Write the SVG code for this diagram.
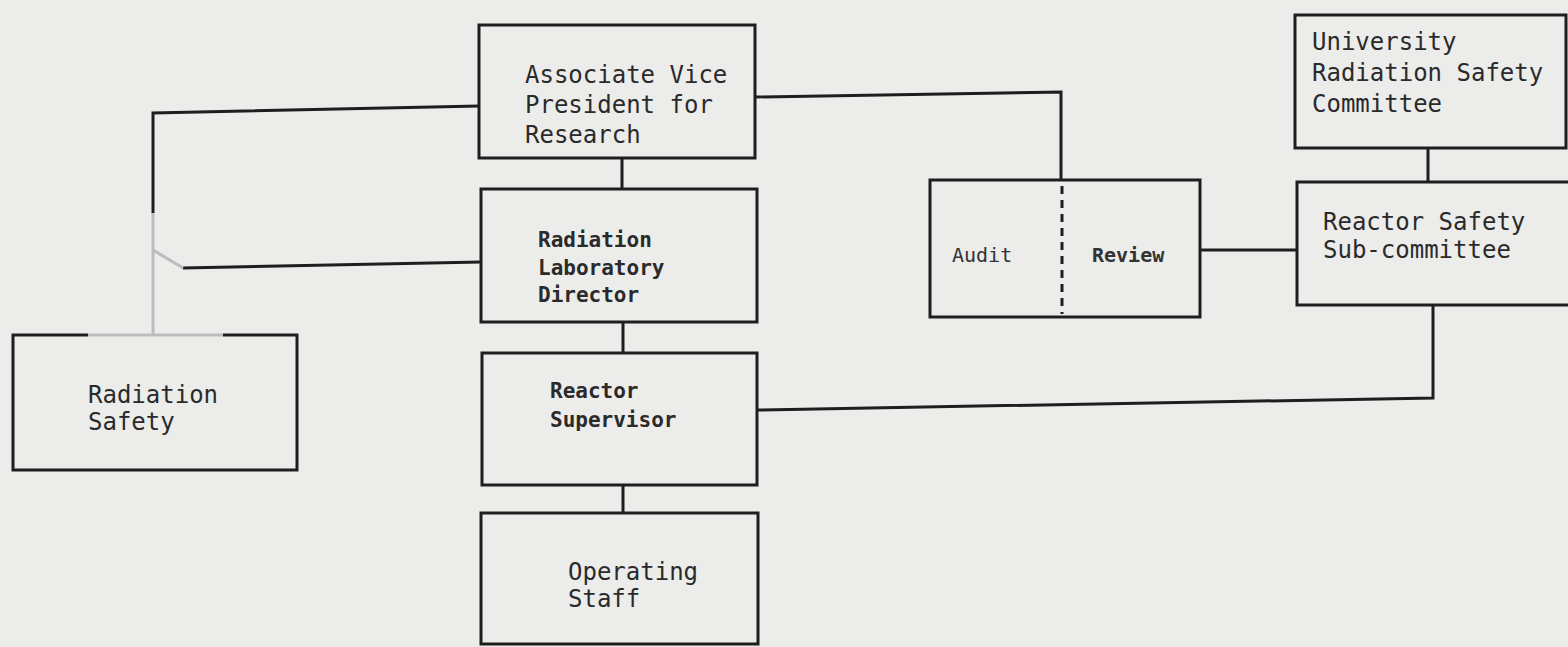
<svg xmlns="http://www.w3.org/2000/svg" width="1568" height="647" viewBox="0 0 1568 647">
<style>
.box{fill:none;stroke:#1e1e1e;stroke-width:3}
.ln{fill:none;stroke:#1e1e1e;stroke-width:3}
.faint{fill:none;stroke:#bdbdbd;stroke-width:3}
.t{font-family:"DejaVu Sans Mono","Liberation Mono",monospace;fill:#2a2a2a;font-size:24px}
.s{font-family:"DejaVu Sans Mono","Liberation Mono",monospace;fill:#2a2a2a;font-size:21px;font-weight:bold}
.a{font-family:"DejaVu Sans Mono","Liberation Mono",monospace;fill:#333;font-size:20px}
.dash{fill:none;stroke:#1e1e1e;stroke-width:3;stroke-dasharray:8 6}
</style>
<rect width="1568" height="647" fill="#ececea"/>
<g id="connectors">
<polyline class="ln" points="479,106 153,113 153,213"/>
<line class="faint" x1="153" y1="213" x2="153" y2="335"/>
<polyline class="ln" points="481,262 183,268"/>
<line class="faint" x1="183" y1="268" x2="153" y2="250"/>
<line class="ln" x1="622" y1="158" x2="622" y2="188"/>
<line class="ln" x1="623" y1="322" x2="623" y2="353"/>
<line class="ln" x1="623" y1="485" x2="623" y2="513"/>
<polyline class="ln" points="755,97 1061,92 1061,180"/>
<line class="ln" x1="1200" y1="250" x2="1297" y2="250"/>
<line class="ln" x1="1428" y1="148" x2="1428" y2="182"/>
<polyline class="ln" points="1433,305 1433,398 757,410"/>
</g>
<g id="avp">
<rect class="box" x="479" y="25" width="276" height="133"/>
<text class="t" x="525" y="83">Associate Vice</text>
<text class="t" x="525" y="113">President for</text>
<text class="t" x="525" y="143">Research</text>
</g>
<g id="rld">
<rect class="box" x="481" y="189" width="276" height="133"/>
<text class="s" x="538" y="247">Radiation</text>
<text class="s" x="538" y="275">Laboratory</text>
<text class="s" x="538" y="302">Director</text>
</g>
<g id="rs">
<rect class="box" x="482" y="353" width="275" height="132"/>
<text class="s" x="550" y="398">Reactor</text>
<text class="s" x="550" y="427">Supervisor</text>
</g>
<g id="os">
<rect class="box" x="481" y="513" width="277" height="131"/>
<text class="t" x="568" y="580">Operating</text>
<text class="t" x="568" y="607">Staff</text>
</g>
<g id="radsafety">
<polyline class="box" points="88,335 13,335 13,470 297,470 297,335 223,335"/>
<line class="faint" x1="88" y1="335" x2="223" y2="335"/>
<text class="t" x="88" y="403">Radiation</text>
<text class="t" x="88" y="430">Safety</text>
</g>
<g id="auditreview">
<rect class="box" x="930" y="180" width="270" height="137"/>
<line class="dash" x1="1062" y1="186" x2="1062" y2="314"/>
<text class="a" x="952" y="262">Audit</text>
<text class="a" x="1092" y="262" font-weight="bold">Review</text>
</g>
<g id="ursc">
<rect class="box" x="1295" y="15" width="271" height="133"/>
<text class="t" x="1312" y="50">University</text>
<text class="t" x="1312" y="81">Radiation Safety</text>
<text class="t" x="1312" y="112">Committee</text>
</g>
<g id="rssc">
<polyline class="box" points="1570,182 1297,182 1297,305 1570,305"/>
<text class="t" x="1323" y="230">Reactor Safety</text>
<text class="t" x="1323" y="258">Sub-committee</text>
</g>
</svg>
